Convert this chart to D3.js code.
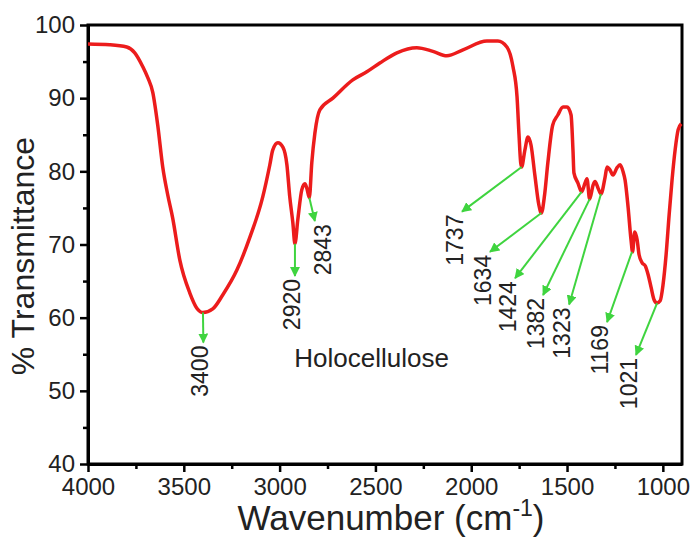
<!DOCTYPE html>
<html>
<head>
<meta charset="utf-8">
<script src="https://cdn.jsdelivr.net/npm/d3@7"></script>
<style>
  body { margin: 0; background: #fff; }
  text { font-family: Arial, "Liberation Sans", sans-serif; fill: #222; }
</style>
</head>
<body>
<div id="chart"></div>
<script>
// FTIR spectrum of holocellulose
const wavenumber = [4000, 3887, 3798, 3756, 3714, 3688, 3662, 3636, 3610, 3584, 3558, 3521, 3469, 3432, 3400,
  3349, 3297, 3223, 3155, 3088, 3051, 3036, 3009, 2983, 2962, 2947, 2931, 2920, 2905, 2884, 2868, 2858, 2845,
  2832, 2816, 2790, 2722, 2618, 2545, 2477, 2388, 2284, 2200, 2127, 2043, 1918, 1861, 1814, 1782, 1761, 1751,
  1742, 1737, 1720, 1704, 1688, 1668, 1647, 1634, 1617, 1600, 1575, 1548, 1521, 1500, 1479, 1469, 1464, 1443,
  1424, 1406, 1396, 1382, 1364, 1354, 1338, 1323, 1302, 1291, 1276, 1260, 1239, 1223, 1207, 1197, 1181, 1166,
  1158, 1147, 1134, 1124, 1108, 1092, 1077, 1061, 1045, 1030, 1014, 999, 983, 967, 952, 936, 920, 904];
const transmittance = [97.4, 97.3, 97.0, 96.2, 94.3, 92.8, 90.8, 86.3, 80.6, 76.8, 73.6, 67.9, 63.4, 61.3, 60.7,
  61.2, 63.1, 66.5, 71.0, 76.5, 80.9, 82.9, 83.9, 83.3, 80.9, 76.5, 73.0, 70.1, 73.4, 77.5, 78.3, 77.7, 76.4,
  81.2, 85.2, 88.4, 90.0, 92.5, 93.6, 94.8, 96.2, 96.9, 96.4, 95.8, 96.6, 97.8, 97.8, 97.0, 94.3, 90.2, 85.2,
  81.2, 80.6, 82.9, 84.7, 83.6, 79.5, 75.4, 74.3, 76.8, 81.2, 86.3, 87.7, 88.8, 88.8, 87.7, 82.9, 79.8, 78.4,
  77.2, 78.4, 79.0, 76.2, 78.1, 78.6, 77.7, 76.9, 79.1, 80.6, 80.2, 79.5, 80.5, 80.9, 79.9, 78.8, 75.0, 70.6,
  69.0, 71.7, 70.6, 68.6, 67.5, 67.1, 65.9, 64.1, 62.4, 62.0, 62.3, 64.5, 68.6, 74.1, 78.8, 82.9, 85.7, 86.5];

// band labels: where the arrow starts (on the curve) and where it points
const bandLabels = ["3400", "2920", "2843", "1737", "1634", "1424", "1382", "1323", "1169", "1021"];
const arrowFromX = [3400, 2920, 2845, 1737, 1634, 1424, 1382, 1323, 1161, 1030];
const arrowFromY = [60.7, 70.1, 76.4, 80.6, 74.3, 77.2, 76.2, 76.9, 69.0, 62.0];
const arrowToX = [3398, 2920, 2816, 2048, 1902, 1771, 1625, 1489, 1291, 1140];
const arrowToY = [56.6, 65.7, 73.2, 74.5, 69.0, 65.4, 63.1, 61.8, 59.4, 54.9];

const xTicks = [4000, 3500, 3000, 2500, 2000, 1500, 1000];
const xMinor = [3750, 3250, 2750, 2250, 1750, 1250];
const yTicks = [40, 50, 60, 70, 80, 90, 100];
const yMinor = [45, 55, 65, 75, 85, 95];

const width = 691, height = 539;
const margin = {top: 25, right: 9, bottom: 75, left: 88};
const innerW = width - margin.left - margin.right;
const innerH = height - margin.top - margin.bottom;

const svg = d3.select("#chart").append("svg")
  .attr("width", width).attr("height", height);

const g = svg.append("g").attr("transform", `translate(${margin.left},${margin.top})`);

const x = d3.scaleLinear().domain([4000, 900]).range([0, innerW]);
const y = d3.scaleLinear().domain([40, 100]).range([innerH, 0]);

// axes
g.append("g").attr("transform", `translate(0,${innerH})`)
  .call(d3.axisBottom(x).tickValues(xTicks).tickFormat(d3.format("d"))
    .tickSize(8).tickSizeOuter(0).tickPadding(6));
g.append("g").attr("transform", `translate(0,${innerH})`)
  .call(d3.axisBottom(x).tickValues(xMinor).tickSize(5).tickFormat(""))
  .select(".domain").remove();
g.append("g")
  .call(d3.axisLeft(y).tickValues(yTicks).tickSize(8).tickSizeOuter(0).tickPadding(5));
g.append("g")
  .call(d3.axisLeft(y).tickValues(yMinor).tickSize(5).tickFormat(""))
  .select(".domain").remove();

g.selectAll(".tick line").attr("stroke", "#000").attr("stroke-width", 2.5);
g.selectAll(".domain").attr("stroke", "#000").attr("stroke-width", 3);
g.selectAll(".tick text").style("font-size", "24px").attr("fill", "#222");

// frame on top and right
g.append("rect").attr("width", innerW).attr("height", innerH)
  .attr("fill", "none").attr("stroke", "#000").attr("stroke-width", 3);

// spectrum
const pts = wavenumber.map((w, i) => [w, transmittance[i]]);
g.append("path").datum(pts)
  .attr("fill", "none").attr("stroke", "#ec1c1c").attr("stroke-width", 3.5)
  .attr("stroke-linejoin", "round")
  .attr("d", d3.line().x(d => x(d[0])).y(d => y(d[1])).curve(d3.curveMonotoneX));

// arrows
svg.append("defs").append("marker")
  .attr("id", "head").attr("viewBox", "0 0 10 10")
  .attr("refX", 9).attr("refY", 5)
  .attr("markerWidth", 5).attr("markerHeight", 5)
  .attr("orient", "auto")
  .append("path").attr("d", "M0,0L10,5L0,10z").attr("fill", "#3fd43f");

bandLabels.forEach((lab, i) => {
  const x1 = x(arrowFromX[i]), y1 = y(arrowFromY[i]);
  const x2 = x(arrowToX[i]), y2 = y(arrowToY[i]);
  g.append("line")
    .attr("x1", x1).attr("y1", y1).attr("x2", x2).attr("y2", y2)
    .attr("stroke", "#3fd43f").attr("stroke-width", 2)
    .attr("marker-end", "url(#head)");
  const shift = x2 - x1 > 3 ? 8 : (x1 - x2 > 3 ? -7 : -3);
  g.append("text")
    .attr("transform", `translate(${x2 + shift},${y2 + 3}) rotate(-90)`)
    .attr("text-anchor", "end").attr("dominant-baseline", "central")
    .style("font-size", "23px")
    .text(lab);
});

g.append("text")
  .attr("x", x(2520)).attr("y", y(53.2))
  .attr("text-anchor", "middle")
  .style("font-size", "26px")
  .text("Holocellulose");

// axis titles
const xt = svg.append("text")
  .attr("x", 391).attr("y", 530)
  .attr("text-anchor", "middle")
  .style("font-size", "35px");
xt.append("tspan").text("Wavenumber (cm");
xt.append("tspan").attr("dy", -14).style("font-size", "23px").text("-1");
xt.append("tspan").attr("dy", 14).text(")");

svg.append("text")
  .attr("transform", "translate(34,256) rotate(-90)")
  .attr("text-anchor", "middle")
  .style("font-size", "32px")
  .text("% Transmittance");
</script>
</body>
</html>
